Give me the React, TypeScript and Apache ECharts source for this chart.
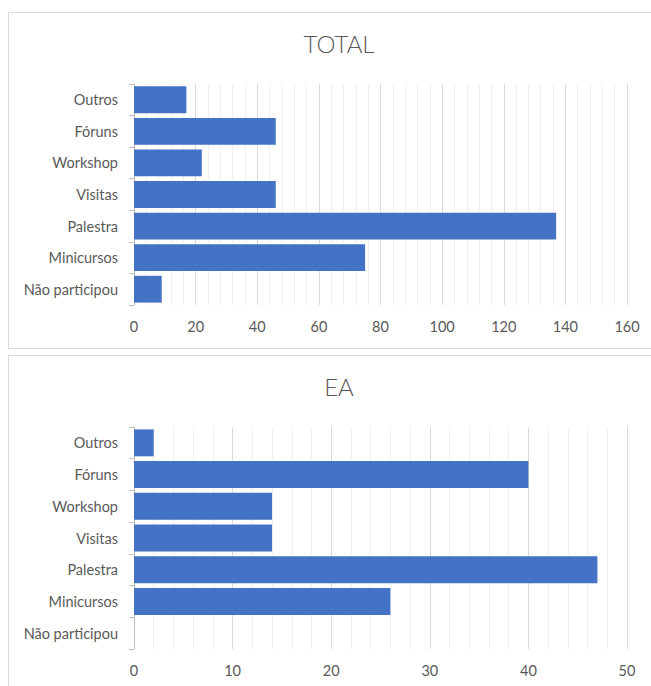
import React, { useEffect, useRef } from "react";
import * as echarts from "echarts";

const categories = ["Outros", "Fóruns", "Workshop", "Visitas", "Palestra", "Minicursos", "Não participou"];
const totalValues = [17, 46, 22, 46, 137, 75, 9];
const eaValues = [2, 40, 14, 14, 47, 26, 0];
const titles = ["TOTAL", "EA"];
const totalTicks = { min: 0, max: 160, interval: 20 };
const eaTicks = { min: 0, max: 50, interval: 10 };

const FONT = "Lato, 'Open Sans', sans-serif";
const TEXT = "#595959";
const BAR = "#4472C4";

export default function App() {
  const ref = useRef<HTMLDivElement>(null);
  useEffect(() => {
    if (!ref.current) return;
    const chart = echarts.init(ref.current, undefined, { renderer: "svg" });
    const grids = [
      { left: 134, top: 84, width: 493, height: 221 },
      { left: 134, top: 427, width: 493, height: 222 },
    ];
    const ticks = [totalTicks, eaTicks];
    const data = [totalValues, eaValues];
    chart.setOption({
      animation: false,
      backgroundColor: "#ffffff",
      graphic: [
        { type: "rect", shape: { x: 8.5, y: 12.5, width: 660, height: 336 }, style: { fill: "none", stroke: "#d9d9d9", lineWidth: 1 }, silent: true, z: -1 },
        { type: "rect", shape: { x: 8.5, y: 355.5, width: 660, height: 360 }, style: { fill: "none", stroke: "#d9d9d9", lineWidth: 1 }, silent: true, z: -1 },
      ],
      title: titles.map((t, i) => ({
        text: t,
        left: 334,
        top: i === 0 ? 26 : 369,
        textAlign: "center",
        textStyle: { fontFamily: FONT, fontSize: 24, fontWeight: 300, color: TEXT },
      })),
      grid: grids,
      xAxis: ticks.map((tk, i) => ({
        type: "value",
        gridIndex: i,
        min: tk.min,
        max: tk.max,
        interval: tk.interval,
        axisLine: { show: false },
        axisTick: { show: false },
        axisLabel: { color: TEXT, fontFamily: FONT, fontSize: 14.5, margin: 14 },
        splitLine: { show: true, lineStyle: { color: "#d9d9d9", width: 1 } },
        minorTick: { show: false, splitNumber: 5 },
        minorSplitLine: { show: true, lineStyle: { color: "#efefef", width: 1 } },
      })),
      yAxis: [0, 1].map((i) => ({
        type: "category",
        gridIndex: i,
        data: categories,
        inverse: true,
        axisLine: { show: true, lineStyle: { color: "#bfbfbf" } },
        axisTick: { show: true, length: 5, lineStyle: { color: "#bfbfbf" } },
        axisLabel: { color: TEXT, fontFamily: FONT, fontSize: 14.5, margin: 16 },
        splitLine: { show: false },
      })),
      series: data.map((d, i) => ({
        type: "bar",
        xAxisIndex: i,
        yAxisIndex: i,
        data: d,
        barCategoryGap: "15%",
        itemStyle: { color: BAR },
      })),
    });
    return () => chart.dispose();
  }, []);
  return (
    <div
      ref={ref}
      style={{ position: "fixed", left: 0, top: 0, width: 651, height: 686 }}
    />
  );
}
